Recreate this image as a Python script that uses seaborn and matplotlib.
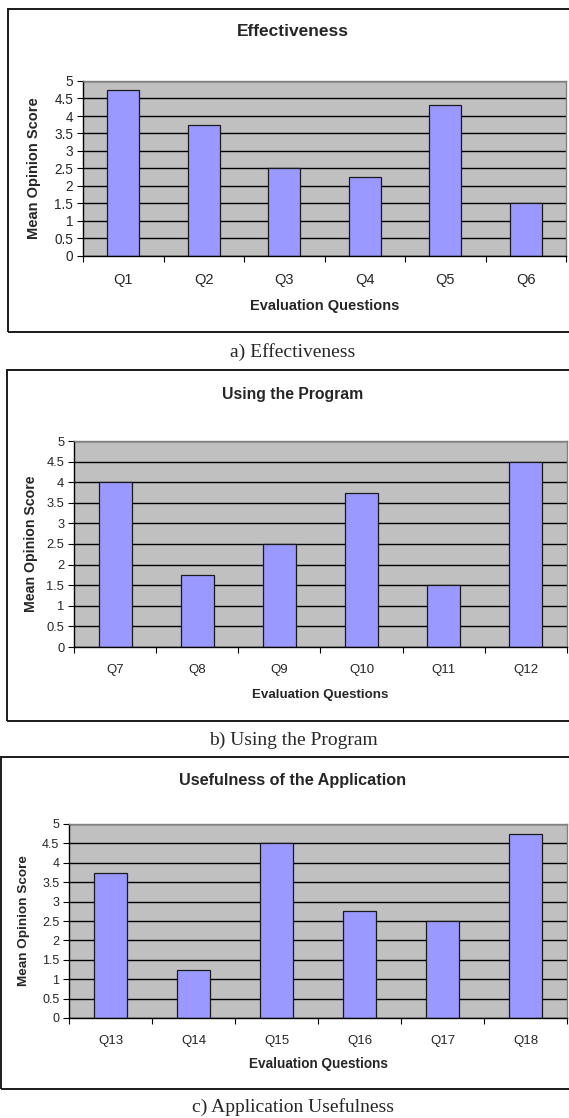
import numpy as np
import pandas as pd
import matplotlib
matplotlib.use("Agg")
import matplotlib.pyplot as plt
import seaborn as sns
from matplotlib.patches import Rectangle

# data
q_effect = ["Q1", "Q2", "Q3", "Q4", "Q5", "Q6"]
v_effect = [4.75, 3.75, 2.5, 2.25, 4.3, 1.5]

q_using = ["Q7", "Q8", "Q9", "Q10", "Q11", "Q12"]
v_using = [4.0, 1.75, 2.5, 3.75, 1.5, 4.5]

q_useful = ["Q13", "Q14", "Q15", "Q16", "Q17", "Q18"]
v_useful = [3.75, 1.25, 4.5, 2.75, 2.5, 4.75]

titles = ["Effectiveness", "Using the Program", "Usefulness of the Application"]
captions = ["a) Effectiveness", "b) Using the Program", "c) Application Usefulness"]
ytick_vals = [0, 0.5, 1, 1.5, 2, 2.5, 3, 3.5, 4, 4.5, 5]
ytick_labels = ["0", "0.5", "1", "1.5", "2", "2.5", "3", "3.5", "4", "4.5", "5"]

sns.set_style("white")
plt.rcParams["font.family"] = ["Liberation Sans", "DejaVu Sans"]

W, H = 569, 1118
fig = plt.figure(figsize=(W / 100, H / 100), dpi=100)


def fx(px):
    return px / W


def fy(py):
    return 1 - py / H


# pixel layout: box left/top/bottom, axes left/right/top/bottom, title y,
# xlabel y, ylabel x, caption y
panels = [
    (8, 9, 332, 83, 566, 81, 256, 32, 306, 34, 352),
    (7, 370, 721, 74, 567, 441, 647, 394, 695, 31, 740),
    (1, 757, 1089, 69, 567, 824, 1018, 780, 1064, 24, 1107),
]
# font sizes: title, x ticks, y ticks, ylabel, xlabel
sizes = [
    (12.5, 10.5, 9.8, 10.5, 10.5),
    (11.3, 9.5, 9.3, 10.2, 9.6),
    (11.7, 9.5, 9.0, 9.7, 9.8),
]
datasets = [(q_effect, v_effect), (q_using, v_using), (q_useful, v_useful)]

for (bl, bt, bb, al, ar, at, ab, ty, xly, ylx, cy), (fs_t, fs_x, fs_y, fs_yl, fs_xl), \
        (cats, vals), title, cap in zip(panels, sizes, datasets, titles, captions):
    # outer frame around each chart
    fig.patches.append(Rectangle((fx(bl), fy(bb)), fx(580 - bl), (bb - bt) / H,
                                 transform=fig.transFigure, fill=False,
                                 edgecolor="#1a1a1a", linewidth=1.4))

    ax = fig.add_axes([fx(al), fy(ab), fx(ar - al), (ab - at) / H])
    df = pd.DataFrame({"question": cats, "score": vals})
    sns.barplot(data=df, x="question", y="score", ax=ax, color="#9999FF",
                saturation=1, width=0.4, edgecolor="#1a1a1a", linewidth=0.9)
    ax.set_facecolor("#C0C0C0")
    ax.set_xlim(-0.5, len(cats) - 0.5)
    ax.set_ylim(0, 5)
    ax.set_yticks(ytick_vals)
    ax.set_yticklabels(ytick_labels)
    ax.yaxis.grid(True, color="black", linewidth=1.0)
    ax.set_axisbelow(True)
    ax.set_xlabel("")
    ax.set_ylabel("")

    ax.set_xticks(np.arange(-0.5, len(cats)), minor=True)
    ax.tick_params(axis="x", which="major", length=0, pad=12, labelsize=fs_x)
    ax.tick_params(axis="x", which="minor", length=4, width=0.8, direction="out",
                   color="black", bottom=True)
    ax.tick_params(axis="y", length=4, width=0.8, direction="out", color="black",
                   left=True, pad=3, labelsize=fs_y)

    for side in ["top", "right"]:
        ax.spines[side].set_color("#808080")
        ax.spines[side].set_linewidth(1.0)
    for side in ["left", "bottom"]:
        ax.spines[side].set_color("black")
        ax.spines[side].set_linewidth(1.0)

    fig.text(fx(293), fy(ty), title, ha="center", va="center",
             fontsize=fs_t, fontweight="bold")
    fig.text(fx((al + ar) / 2), fy(xly), "Evaluation Questions", ha="center",
             va="center", fontsize=fs_xl, fontweight="bold")
    fig.text(fx(ylx), fy((at + ab) / 2), "Mean Opinion Score", ha="center",
             va="center", rotation=90, fontsize=fs_yl, fontweight="bold")
    fig.text(fx(293), fy(cy), cap, ha="center", va="center", fontsize=14,
             family=["Liberation Serif", "DejaVu Serif"])

fig.savefig("out.png", dpi=100)
